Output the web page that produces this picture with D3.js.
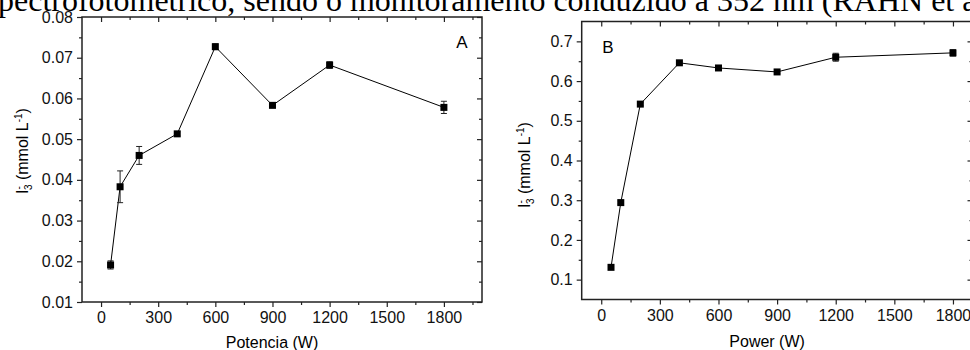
<!DOCTYPE html>
<html>
<head>
<meta charset="utf-8">
<script src="https://cdn.jsdelivr.net/npm/d3@7"></script>
<style>
  body { margin: 0; background: #fff; }
  svg { display: block; }
  .tick text { font-family: "Liberation Sans", Arial, sans-serif; fill: #111; }
</style>
</head>
<body>
<svg id="chart" width="970" height="350"></svg>
<script>
// values
const powerA = [50, 100, 200, 400, 600, 900, 1200, 1800];
const iodA = [0.0191, 0.0383, 0.0460, 0.0513, 0.0727, 0.0583, 0.0682, 0.0578];
const errA = [0.0010, 0.0039, 0.0022, 0.0005, 0.0007, 0.0004, 0.0008, 0.0015];

const powerB = [50, 100, 200, 400, 600, 900, 1200, 1800];
const iodB = [0.131, 0.294, 0.542, 0.646, 0.633, 0.623, 0.660, 0.671];
const errB = [0.003, 0.004, 0.004, 0.004, 0.006, 0.004, 0.010, 0.008];

const xTicks = [0, 300, 600, 900, 1200, 1500, 1800];
const xMinor = [150, 450, 750, 1050, 1350, 1650, 1950, -150];
const yTicksA = [0.01, 0.02, 0.03, 0.04, 0.05, 0.06, 0.07, 0.08];
const yMinorA = [0.015, 0.025, 0.035, 0.045, 0.055, 0.065, 0.075];
const yTicksB = [0.1, 0.2, 0.3, 0.4, 0.5, 0.6, 0.7];
const yMinorB = [0.05, 0.15, 0.25, 0.35, 0.45, 0.55, 0.65, 0.75];

const svg = d3.select('#chart');

// clipped line of body text from the page above the figure
const para = svg.append('text')
  .attr('y', 11)
  .style('font-family', '"Liberation Serif", "Times New Roman", serif')
  .style('font-size', '32px')
  .attr('fill', '#000')
  .text('espectrofotométrico, sendo o monitoramento conduzido a 352 nm (RAHN et al.');
const tmp = svg.append('text')
  .style('font-family', '"Liberation Serif", "Times New Roman", serif')
  .style('font-size', '32px')
  .text('es');
const off = tmp.node().getComputedTextLength();
tmp.remove();
para.attr('x', -off - 2);

function drawPanel(cfg) {
  const x = d3.scaleLinear().domain(cfg.xDomain).range(cfg.xRange);
  const y = d3.scaleLinear().domain(cfg.yDomain).range(cfg.yRange);
  const g = svg.append('g');
  const [x0, x1] = cfg.xRange;
  const [yb, yt] = cfg.yRange;
  const inX = v => v > cfg.xDomain[0] && v < cfg.xDomain[1];
  const inY = v => v > cfg.yDomain[0] && v < cfg.yDomain[1];

  // axes: bottom & left outward, top & right inward
  g.append('g').attr('transform', 'translate(0,' + yb + ')')
    .call(d3.axisBottom(x).tickValues(xTicks).tickSize(5).tickPadding(5).tickFormat(d3.format('d')));
  g.append('g').attr('transform', 'translate(0,' + yb + ')')
    .call(d3.axisBottom(x).tickValues(xMinor.filter(inX)).tickSize(3).tickFormat(''));
  g.append('g').attr('transform', 'translate(' + x0 + ',0)')
    .call(d3.axisLeft(y).tickValues(cfg.yTicks).tickSize(5).tickPadding(4).tickFormat(cfg.yFormat));
  g.append('g').attr('transform', 'translate(' + x0 + ',0)')
    .call(d3.axisLeft(y).tickValues(cfg.yMinor.filter(inY)).tickSize(3).tickFormat(''));
  g.append('g').attr('transform', 'translate(0,' + yt + ')')
    .call(d3.axisTop(x).tickValues(xTicks).tickSize(-5).tickFormat(''));
  g.append('g').attr('transform', 'translate(0,' + yt + ')')
    .call(d3.axisTop(x).tickValues(xMinor.filter(inX)).tickSize(-3).tickFormat(''));
  g.append('g').attr('transform', 'translate(' + x1 + ',0)')
    .call(d3.axisRight(y).tickValues(cfg.yTicks).tickSize(-5).tickFormat(''));
  g.append('g').attr('transform', 'translate(' + x1 + ',0)')
    .call(d3.axisRight(y).tickValues(cfg.yMinor.filter(inY)).tickSize(-3).tickFormat(''));
  g.selectAll('.domain').remove();
  g.selectAll('.tick line').attr('stroke', '#222').attr('stroke-width', 1.2);
  g.selectAll('.tick text').style('font-size', '16px');

  // frame
  g.append('rect')
    .attr('x', x0).attr('y', yt)
    .attr('width', x1 - x0).attr('height', yb - yt)
    .attr('fill', 'none').attr('stroke', '#222').attr('stroke-width', 1.5);

  const data = cfg.xs.map((v, i) => ({ x: v, y: cfg.ys[i], e: cfg.es[i] }));

  g.append('path')
    .datum(data)
    .attr('fill', 'none').attr('stroke', '#000').attr('stroke-width', 1)
    .attr('d', d3.line().x(d => x(d.x)).y(d => y(d.y)));

  // error bars
  const eb = g.selectAll('.eb').data(data).enter().append('g').attr('class', 'eb')
    .attr('stroke', '#222').attr('stroke-width', 1);
  eb.append('line')
    .attr('x1', d => x(d.x)).attr('x2', d => x(d.x))
    .attr('y1', d => y(d.y - d.e)).attr('y2', d => y(d.y + d.e));
  eb.append('line')
    .attr('x1', d => x(d.x) - 3).attr('x2', d => x(d.x) + 3)
    .attr('y1', d => y(d.y - d.e)).attr('y2', d => y(d.y - d.e));
  eb.append('line')
    .attr('x1', d => x(d.x) - 3).attr('x2', d => x(d.x) + 3)
    .attr('y1', d => y(d.y + d.e)).attr('y2', d => y(d.y + d.e));

  g.selectAll('.pt').data(data).enter().append('rect')
    .attr('x', d => x(d.x) - 3.5).attr('y', d => y(d.y) - 3.5)
    .attr('width', 7).attr('height', 7)
    .attr('fill', '#000');

  // panel letter
  g.append('text')
    .attr('x', cfg.letterPos[0]).attr('y', cfg.letterPos[1])
    .style('font-family', '"Liberation Sans", Arial, sans-serif')
    .style('font-size', '17px')
    .attr('text-anchor', 'middle')
    .text(cfg.letter);

  // x title
  g.append('text')
    .attr('x', (x0 + x1) / 2 + cfg.xTitleShift).attr('y', cfg.xTitleY)
    .style('font-family', '"Liberation Sans", Arial, sans-serif')
    .style('font-size', '16px')
    .attr('text-anchor', 'middle')
    .text(cfg.xTitle);

  // y title: I3- (mmol L-1)
  const yt2 = g.append('text')
    .attr('transform', 'translate(' + cfg.yTitlePos[0] + ',' + cfg.yTitlePos[1] + ') rotate(-90)')
    .style('font-family', '"Liberation Sans", Arial, sans-serif')
    .style('font-size', '16px')
    .attr('text-anchor', 'middle');
  yt2.append('tspan').text('I');
  yt2.append('tspan').attr('dy', -6).style('font-size', '10px').text('-');
  yt2.append('tspan').attr('dx', -4).attr('dy', 10).style('font-size', '10px').text('3');
  yt2.append('tspan').attr('dy', -4).text(' (mmol L');
  yt2.append('tspan').attr('dy', -6).style('font-size', '10px').text('-1');
  yt2.append('tspan').attr('dy', 6).text(')');
}

drawPanel({
  xs: powerA, ys: iodA, es: errA,
  xDomain: [-100, 2000], xRange: [82, 482],
  yDomain: [0.01, 0.08], yRange: [302, 17],
  yTicks: yTicksA, yMinor: yMinorA, yFormat: d3.format('.2f'),
  letter: 'A', letterPos: [462, 48],
  xTitle: 'Potencia (W)', xTitleShift: -10, xTitleY: 348,
  yTitlePos: [28, 151]
});

drawPanel({
  xs: powerB, ys: iodB, es: errB,
  xDomain: [-100, 1900], xRange: [581.7, 972.5],
  yDomain: [0.05, 0.75], yRange: [299.5, 21.5],
  yTicks: yTicksB, yMinor: yMinorB, yFormat: d3.format('.1f'),
  letter: 'B', letterPos: [608, 53],
  xTitle: 'Power (W)', xTitleShift: -10, xTitleY: 347,
  yTitlePos: [530, 165]
});
</script>
</body>
</html>
